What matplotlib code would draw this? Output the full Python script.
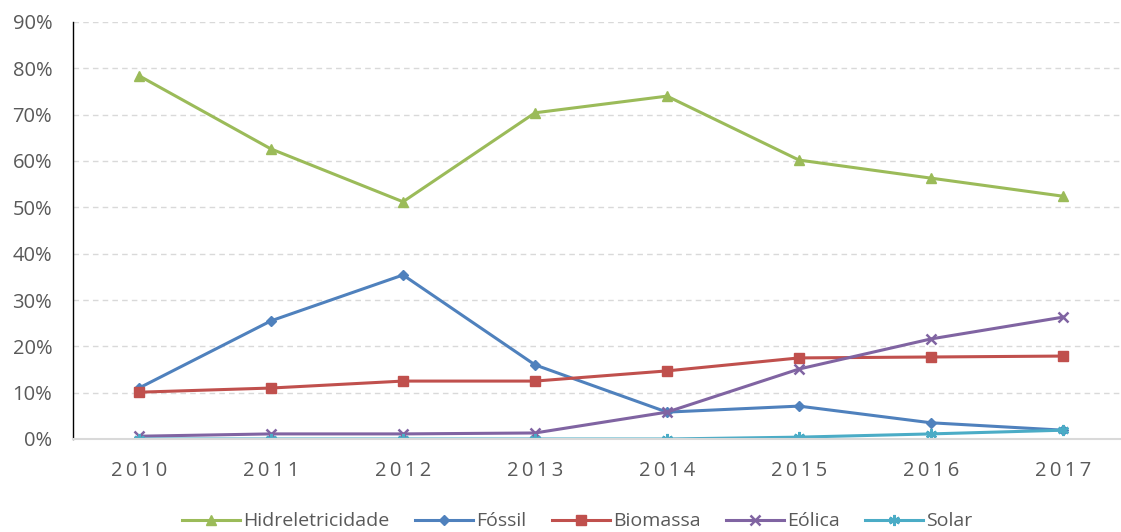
import numpy as np
import matplotlib.pyplot as plt

plt.rcParams['font.family'] = ['Open Sans', 'DejaVu Sans']

anos = ['2010', '2011', '2012', '2013', '2014', '2015', '2016', '2017']
hidro = [78.4, 62.6, 51.2, 70.4, 74.0, 60.2, 56.3, 52.4]
fossil = [11.0, 25.5, 35.4, 16.0, 5.8, 7.1, 3.5, 1.9]
biomassa = [10.1, 11.0, 12.5, 12.5, 14.7, 17.5, 17.7, 17.9]
eolica = [0.6, 1.1, 1.1, 1.3, 5.8, 15.1, 21.6, 26.3]
solar = [0.0, 0.0, 0.0, 0.0, 0.0, 0.4, 1.1, 1.9]

series = [
    ('Hidreletricidade', hidro, '#9BBB59', '^', 7),
    ('Fóssil', fossil, '#4F81BD', 'D', 5),
    ('Biomassa', biomassa, '#C0504D', 's', 7),
    ('Eólica', eolica, '#8064A2', 'x', 7),
    ('Solar', solar, '#4BACC6', (6, 2, 0), 8),
]

fig = plt.figure(figsize=(11.21, 5.32), dpi=100)
ax = fig.add_axes([73 / 1121, 1 - 439 / 532, 1056 / 1121, (439 - 22) / 532])

x = np.arange(len(anos))
for nome, vals, cor, mk, ms in series:
    ax.plot(x, vals, color=cor, lw=2.2, marker=mk, markersize=ms,
            markeredgewidth=1.8 if mk in ('x', (6, 2, 0)) else 1,
            markeredgecolor=cor, markerfacecolor=cor, label=nome)

ax.set_xlim(-0.5, 7.5)
ax.set_ylim(0, 90)
ax.set_yticks(np.arange(0, 91, 10))
ax.set_yticklabels([f'{v}%' for v in range(0, 91, 10)])
ax.set_xticks(x)
ax.set_xticklabels(['\u2009'.join(a) for a in anos])
ax.tick_params(axis='both', length=0, labelsize=14.5, colors='#595959')
ax.tick_params(axis='x', pad=16)
ax.tick_params(axis='y', pad=15)
ax.yaxis.grid(True, linestyle=(0, (4, 3)), color='#D9D9D9', lw=1)
ax.set_axisbelow(True)
for s in ['top', 'right']:
    ax.spines[s].set_visible(False)
ax.spines['left'].set_color('#000000')
ax.spines['left'].set_linewidth(1)
ax.spines['bottom'].set_color('#D9D9D9')
ax.spines['bottom'].set_linewidth(1.5)

fig.legend(loc='lower center', bbox_to_anchor=(0.515, -0.03), ncol=5, frameon=False,
           fontsize=14, labelcolor='#595959', handlelength=3.0, handletextpad=0.15,
           columnspacing=1.3)

fig.savefig('out.png', dpi=100)
